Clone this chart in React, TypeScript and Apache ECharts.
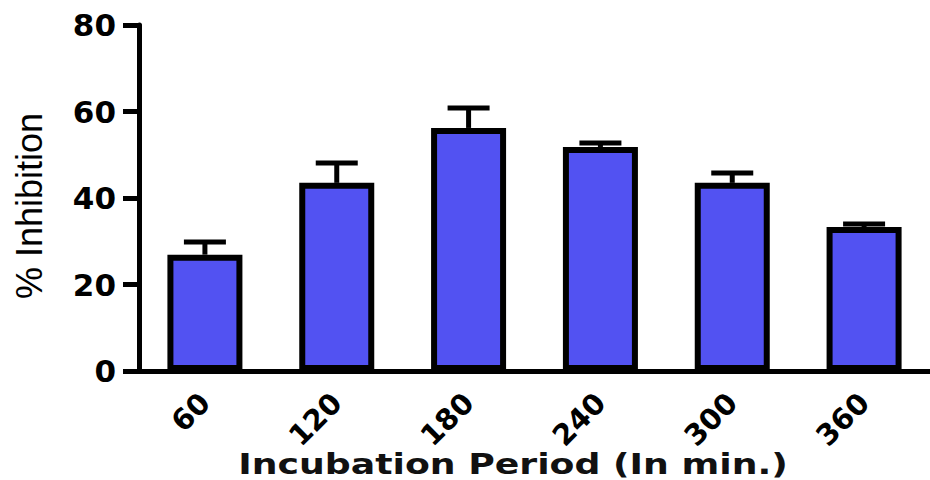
import React, { useEffect, useRef } from "react";
import * as echarts from "echarts";

const categories = ["60", "120", "180", "240", "300", "360"];
const inhibition = [26.9, 43.5, 56.2, 51.8, 43.5, 33.3];
const errors = [2.9, 4.6, 4.6, 0.9, 2.3, 0.7];
const yTicks = { min: 0, max: 80, interval: 20 };
const xTitle = "Incubation Period (In min.)";
const yTitle = "% Inhibition";

export default function App() {
  const ref = useRef<HTMLDivElement>(null);
  useEffect(() => {
    if (!ref.current) return;
    const chart = echarts.init(ref.current, null, { renderer: "svg" });
    const bold = { fontFamily: "DejaVu Sans", fontWeight: "bold" as const, color: "#000" };
    chart.setOption({
      animation: false,
      backgroundColor: "#fff",
      grid: { left: 139, right: -17, top: 25, bottom: 109 },
      xAxis: {
        type: "category",
        data: categories,
        axisLine: { lineStyle: { color: "#000", width: 5 } },
        axisTick: { alignWithLabel: true, length: 12, lineStyle: { color: "#000", width: 5 } },
        axisLabel: { ...bold, fontSize: 29, rotate: 45, margin: 27 },
      },
      yAxis: {
        type: "value",
        min: yTicks.min,
        max: yTicks.max,
        interval: yTicks.interval,
        axisLine: { show: true, lineStyle: { color: "#000", width: 5 } },
        axisTick: { show: true, length: 16, lineStyle: { color: "#000", width: 5 } },
        axisLabel: { ...bold, fontSize: 31, margin: 23 },
        splitLine: { show: false },
      },
      graphic: [
        {
          type: "text",
          x: 29,
          y: 206,
          rotation: Math.PI / 2,
          style: {
            text: yTitle,
            fontFamily: "Liberation Sans",
            fontSize: 36,
            fill: "#000",
            align: "center",
            verticalAlign: "middle",
          },
        },
        {
          type: "text",
          x: 513,
          y: 464,
          scaleX: 1.25,
          style: {
            text: xTitle,
            fontFamily: "DejaVu Sans",
            fontWeight: "bold",
            fontSize: 29,
            fill: "#111",
            align: "center",
            verticalAlign: "middle",
          },
        },
      ],
      series: [
        {
          type: "custom",
          z: 1,
          data: categories.map((_, i) => [i, inhibition[i], errors[i]]),
          renderItem: (params: any, api: any) => {
            const x = api.value(0);
            const v = api.value(1);
            const e = api.value(2);
            const top = api.coord([x, v + e]);
            const base = api.coord([x, v]);
            return {
              type: "group",
              children: [
                {
                  type: "line",
                  shape: { x1: top[0], y1: top[1], x2: base[0], y2: base[1] },
                  style: { stroke: "#000", lineWidth: 5 },
                },
                {
                  type: "line",
                  shape: { x1: top[0] - 21, y1: top[1], x2: top[0] + 21, y2: top[1] },
                  style: { stroke: "#000", lineWidth: 5 },
                },
              ],
            };
          },
        },
        {
          type: "bar",
          z: 2,
          data: inhibition,
          barWidth: 75,
          itemStyle: { color: "#5252F2", borderColor: "#000", borderWidth: 6 },
        },
      ],
    });
    return () => chart.dispose();
  }, []);
  return (
    <div
      ref={ref}
      style={{ position: "absolute", left: 0, top: 0, width: 930, height: 480, overflow: "hidden" }}
    />
  );
}
